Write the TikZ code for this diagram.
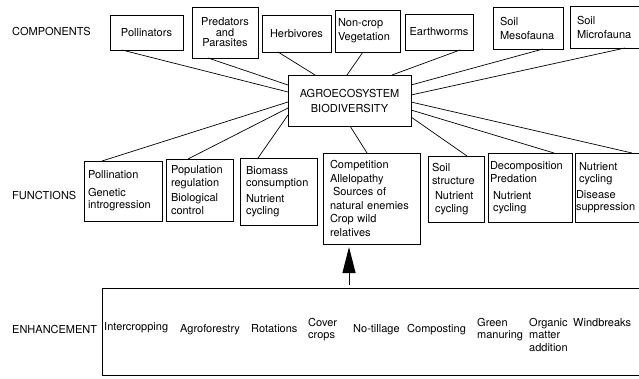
\documentclass[tikz,border=0pt]{standalone}
\usepackage{fontspec}
\setmainfont{TeX Gyre Heros}
\usetikzlibrary{calc,arrows.meta}
\begin{document}
\begin{tikzpicture}[x=1pt,y=-1pt,
  every node/.style={font=\fontsize{11}{12.5}\selectfont},
  box/.style={draw, line width=0.9pt, inner sep=0pt, outer sep=0pt},
  link/.style={line width=0.7pt},
  lbl/.style={anchor=west, inner sep=0pt},
  enh/.style={anchor=north west, inner sep=0pt, align=left},
]
\useasboundingbox (0,0) rectangle (639,378);
\clip (0,0) rectangle (639,378);

% row labels
\node[lbl] (lcomp) at (12,31) {COMPONENTS};
\node[lbl] (lfunc) at (12,195) {FUNCTIONS};
\node[lbl] (lenh) at (12,329) {ENHANCEMENT};

% components
\node[box, minimum width=73pt, minimum height=35pt] (pol) at (146.5,32.5) {Pollinators};
\node[box, minimum width=66pt, minimum height=51pt, align=center] (pred) at (225,32.5) {Predators\\[-2pt]and\\[-2pt]Parasites};
\node[box, minimum width=69pt, minimum height=37pt] (herb) at (296.5,33.5) {Herbivores};
\node[box, minimum width=65pt, minimum height=42pt, text width=59pt, align=left, inner xsep=3pt] (noncrop) at (367.5,31) {Non-crop\\[1.5pt]Vegetation};
\node[box, minimum width=68pt, minimum height=36pt] (earth) at (439,32) {Earthworms};
\node[box, minimum width=70pt, minimum height=42pt, text width=56pt, align=left, inner xsep=7pt] (meso) at (528,28) {Soil\\[1.5pt]Mesofauna};
\node[box, minimum width=80pt, minimum height=42pt, text width=66pt, align=left, inner xsep=7pt] (micro) at (610,27) {Soil\\[1.5pt]Microfauna};

% central
\node[box, minimum width=123pt, minimum height=51pt, align=center] (bio) at (349.5,100.5) {AGROECOSYSTEM\\[2.5pt]BIODIVERSITY};

% functions
\node[box, minimum width=78pt, minimum height=60pt, text width=70pt, align=left, inner xsep=4pt] (fpol) at (123,191) {Pollination\\[5pt]Genetic\\introgression};
\node[box, minimum width=67pt, minimum height=62pt, text width=57pt, align=left, inner xsep=5pt] (fpop) at (199.5,190) {Population\\regulation\\[3pt]Biological\\control};
\node[box, minimum width=77pt, minimum height=67pt, text width=65pt, align=left, inner xsep=6pt] (fbio) at (278.5,191.5) {Biomass\\consumption\\[3pt]Nutrient\\cycling};
\node[box, minimum width=97pt, minimum height=91pt, text width=83pt, align=left, inner xsep=7pt] (fcomp) at (371.5,198.5) {Competition\\[1pt]Allelopathy\\[1pt]\hspace*{3pt}Sources of\\[1pt]natural enemies\\[1pt]Crop wild\\[1pt]relatives};
\node[box, minimum width=56pt, minimum height=66pt, text width=48pt, align=left, inner xsep=4pt] (fsoil) at (456,189) {Soil\\structure\\[3pt]\hspace*{3pt}Nutrient\\\hspace*{3pt}cycling};
\node[box, minimum width=84pt, minimum height=69pt, text width=80pt, align=left, inner xsep=2pt] (fdec) at (530,187.5) {Decomposition\\[1pt]Predation\\[4pt]\hspace*{3pt}Nutrient\\\hspace*{3pt}cycling};
\node[box, minimum width=80pt, minimum height=69pt, text width=72pt, align=left, inner xsep=4pt] (fnut) at (615,187.5) {Nutrient\\cycling\\[3pt]\hspace*{-3pt}Disease\\\hspace*{-3pt}suppression};

% enhancement
\node[box, minimum width=548pt, minimum height=87pt] (enh) at (376,331.5) {};
\node[enh] (e1) at (104,322) {Intercropping};
\node[enh] (e2) at (180,324) {Agroforestry};
\node[enh] (e3) at (251,324) {Rotations};
\node[enh] (e4) at (308,318) {Cover\\crops};
\node[enh] (e5) at (353,324) {No-tillage};
\node[enh] (e6) at (407,324) {Composting};
\node[enh] (e7) at (477,318) {Green\\manuring};
\node[enh] (e8) at (529,318) {Organic\\matter\\addition};
\node[enh] (e9) at (573,318) {Windbreaks};

% connectors: components to centre
\draw[link] ($(pol.south west)+(12,0)$) -- ($(bio.north west)+(0,17)$);
\draw[link] ($(pred.south west)+(16,0)$) -- ($(bio.north west)+(0,10)$);
\draw[link] ($(herb.south west)+(16,0)$) -- ($(bio.north west)+(27,0)$);
\draw[link] ($(noncrop.south west)+(28,0)$) -- ($(bio.north west)+(59,0)$);
\draw[link] ($(earth.south west)+(55,0)$) -- ($(bio.north west)+(104,0)$);
\draw[link] ($(meso.south west)+(50,0)$) -- ($(bio.north east)+(0,10)$);
\draw[link] ($(micro.south west)+(55,0)$) -- ($(bio.north east)+(0,20)$);

% connectors: centre to functions
\draw[link] ($(bio.north west)+(0,27)$) -- ($(fpol.north west)+(18,0)$);
\draw[link] ($(bio.north west)+(0,33)$) -- ($(fpop.north west)+(22,0)$);
\draw[link] ($(bio.north west)+(0,40)$) -- ($(fbio.north west)+(18,0)$);
\draw[link] ($(bio.south west)+(62,0)$) -- ($(fcomp.north west)+(44,0)$);
\draw[link] ($(bio.north east)+(0,42)$) -- ($(fsoil.north west)+(39,0)$);
\draw[link] ($(bio.north east)+(0,35)$) -- ($(fdec.north west)+(66,0)$);
\draw[link] ($(bio.north east)+(0,27)$) -- ($(fnut.north west)+(57,0)$);

% arrow from enhancement to functions
\coordinate (tip) at ($(fcomp.south west)+(26,3)$);
\draw[line width=1pt, -{Triangle[length=26pt,width=13pt]}] ($(tip |- enh.north)+(0,-3)$) -- (tip);
\end{tikzpicture}
\end{document}
